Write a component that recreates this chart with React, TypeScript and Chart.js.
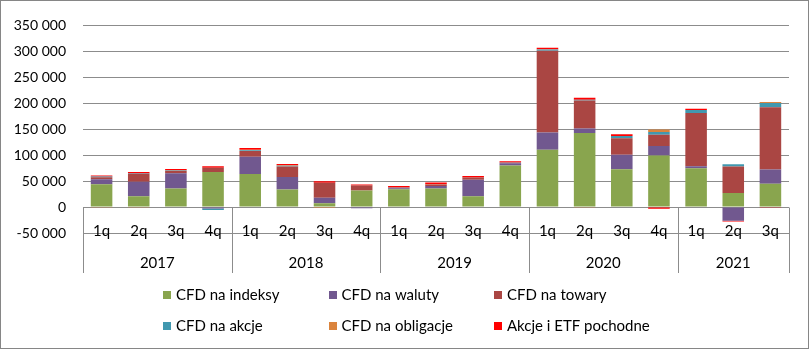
import { useEffect, useRef } from "react";
import { Chart, registerables } from "chart.js";

Chart.register(...registerables);

const quarters = ["1q", "2q", "3q", "4q", "1q", "2q", "3q", "4q", "1q", "2q", "3q", "4q", "1q", "2q", "3q", "4q", "1q", "2q", "3q"];
const years = ["2017", "2018", "2019", "2020", "2021"];
const quartersPerYear = [4, 4, 4, 4, 3];

const seriesNames = ["CFD na indeksy", "CFD na waluty", "CFD na towary", "CFD na akcje", "CFD na obligacje", "Akcje i ETF pochodne"];
const seriesColors = ["#89A54E", "#71588F", "#AA4643", "#4198AF", "#DB843D", "#FF0000"];

const cfdIndeksy = [43700, 20600, 35600, 67500, 63800, 33800, 7500, 31900, 34400, 35600, 20600, 80000, 110600, 142500, 73000, 99400, 75000, 26900, 45000];
const cfdWaluty = [10000, 28000, 29400, -3000, 33000, 24000, 10500, -2500, 2000, 5000, 32000, 4400, 33000, 8700, 28000, 18000, 3700, -26250, 27500];
const cfdTowary = [3500, 15000, 5000, 8000, 11000, 20500, 29000, 9400, 1000, 3000, 4400, 1000, 157500, 54000, 31500, 22000, 102500, 51000, 120000];
const cfdAkcje = [1500, 1000, 1000, -2500, 1500, 1500, 0, 0, 500, 0, 0, 500, 2500, 1500, 4500, 5000, 6000, 4400, 8000];
const cfdObligacje = [-1500, -1500, 500, 0, 1000, 500, -2000, 0, 0, 500, 0, -1000, 500, -1500, 0, 5000, 0, 0, 2000];
const akcjeEtf = [2000, 2800, 2000, 3000, 3500, 2500, 2500, 2000, 2500, 3000, 3000, 2500, 3000, 4000, 3500, -3500, 2000, -1500, -1500];

const seriesValues = [cfdIndeksy, cfdWaluty, cfdTowary, cfdAkcje, cfdObligacje, akcjeEtf];

const FONT = "Lato";
const LINE = "#8c8c8c";

function fmt(v: number): string {
  const s = String(Math.abs(v)).replace(/\B(?=(\d{3})+(?!\d))/g, " ");
  return (v < 0 ? "-" : "") + s;
}

const axisPlugin = {
  id: "groupedAxis",
  afterDatasetsDraw(chart: any) {
    const { ctx, scales } = chart;
    const x = scales.x;
    const y = scales.y;
    const y0 = Math.round(y.getPixelForValue(0)) + 0.5;
    const yEnd = y0 + 65.5;
    const w = x.getPixelForValue(1) - x.getPixelForValue(0);
    ctx.save();
    ctx.strokeStyle = LINE;
    ctx.lineWidth = 1;
    let idx = 0;
    const edges: number[] = [x.getPixelForValue(0) - w / 2];
    quartersPerYear.forEach((n) => {
      idx += n;
      edges.push(x.getPixelForValue(idx - 1) + w / 2);
    });
    edges.forEach((e) => {
      const px = Math.round(e) + 0.5;
      ctx.beginPath();
      ctx.moveTo(px, y0);
      ctx.lineTo(px, yEnd);
      ctx.stroke();
    });
    ctx.fillStyle = "#000";
    ctx.font = `15px ${FONT}`;
    ctx.textAlign = "center";
    ctx.textBaseline = "alphabetic";
    quarters.forEach((q, i) => {
      ctx.fillText(q, x.getPixelForValue(i), y0 + 28);
    });
    years.forEach((yr, i) => {
      ctx.fillText(yr, (edges[i] + edges[i + 1]) / 2, y0 + 60);
    });
    ctx.restore();
  },
};

const legendPlugin = {
  id: "gridLegend",
  afterDraw(chart: any) {
    const { ctx } = chart;
    ctx.save();
    ctx.font = `15px ${FONT}`;
    ctx.textBaseline = "middle";
    ctx.textAlign = "left";
    chart.data.datasets.forEach((ds: any, i: number) => {
      const col = i % 3;
      const row = Math.floor(i / 3);
      const tx = 176 + col * 165.5;
      const ty = 295 + row * 31;
      ctx.fillStyle = ds.backgroundColor;
      ctx.fillRect(Math.round(tx - 13), Math.round(ty - 4.5), 8, 8);
      ctx.fillStyle = "#000";
      ctx.fillText(ds.label, tx, ty);
    });
    ctx.restore();
  },
};

const borderPlugin = {
  id: "outerBorder",
  afterDraw(chart: any) {
    const { ctx } = chart;
    ctx.save();
    ctx.strokeStyle = "#868686";
    ctx.lineWidth = 1;
    ctx.strokeRect(0.5, 0.5, 808, 348);
    ctx.restore();
  },
};

export default function App() {
  const ref = useRef<HTMLCanvasElement>(null);
  useEffect(() => {
    document.body.style.margin = "0";
    const chart = new Chart(ref.current as HTMLCanvasElement, {
      type: "bar",
      data: {
        labels: quarters,
        datasets: seriesNames.map((name, i) => ({
          label: name,
          data: seriesValues[i],
          backgroundColor: seriesColors[i],
          borderWidth: 0,
          categoryPercentage: 1,
          barPercentage: 0.58,
        })),
      },
      options: {
        responsive: false,
        animation: false,
        devicePixelRatio: 1,
        layout: { padding: { left: 0, top: 19, right: 21, bottom: 117 } },
        plugins: { legend: { display: false }, tooltip: { enabled: false } },
        scales: {
          x: { display: false, stacked: true },
          y: {
            stacked: true,
            min: -50000,
            max: 350000,
            ticks: {
              stepSize: 50000,
              padding: 17,
              color: "#000",
              font: { family: FONT, size: 14 },
              callback: (v: any) => fmt(Number(v)),
            },
            grid: { color: LINE, drawTicks: false, lineWidth: 1 },
            border: { display: false },
            afterFit: (s: any) => {
              s.width = 83;
            },
          },
        },
      },
      plugins: [axisPlugin, legendPlugin, borderPlugin],
    } as any);
    return () => chart.destroy();
  }, []);
  return <canvas ref={ref} width={810} height={350} style={{ display: "block" }} />;
}
